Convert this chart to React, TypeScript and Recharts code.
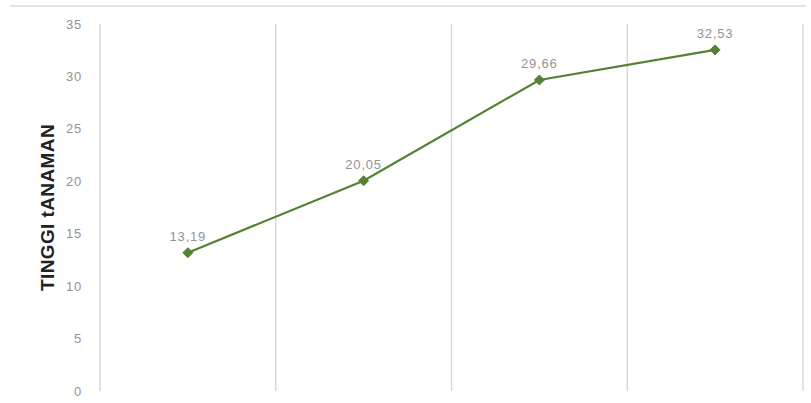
import { LineChart, Line, XAxis, YAxis, CartesianGrid, LabelList, Label } from "recharts";

const categories = ["1", "2", "3", "4"];
const tinggi = [13.19, 20.05, 29.66, 32.53];
const yTicks = [0, 5, 10, 15, 20, 25, 30, 35];

const data = categories.map((c, i) => ({ name: c, tinggi: tinggi[i] }));

const FONT = "'Liberation Sans', Arial, sans-serif";

const Diamond = (props: any) => {
  const { cx, cy } = props;
  if (cx == null || cy == null) return null;
  const r = 5;
  return (
    <polygon
      points={`${cx},${cy - r} ${cx + r},${cy} ${cx},${cy + r} ${cx - r},${cy}`}
      fill="#548235"
      stroke="#548235"
    />
  );
};

const bandLines = ({ offset }: any) =>
  categories.map((_, i) => offset.left + (offset.width * i) / categories.length).concat(offset.left + offset.width);

export default function App() {
  return (
    <div style={{ position: "absolute", left: 0, top: 0, width: 811, height: 403, background: "#fff" }}>
      <div style={{ position: "absolute", left: 10, top: 5, width: 796, borderTop: "2px solid #e3e3e3" }} />
      <LineChart
        width={811}
        height={403}
        data={data}
        margin={{ top: 24, right: 8, bottom: 12, left: 0 }}
      >
        <CartesianGrid horizontal={false} stroke="#d9d9d9" strokeWidth={1.5} verticalCoordinatesGenerator={bandLines} />
        <XAxis dataKey="name" type="category" scale="band" hide />
        <YAxis
          width={100}
          domain={[0, 35]}
          ticks={yTicks}
          axisLine={false}
          tickLine={false}
          tickMargin={12}
          tick={{ fill: "#939393", fontSize: 13, fontFamily: FONT, letterSpacing: 0.8 }}
        >
          <Label
            value="TINGGI tANAMAN"
            angle={-90}
            position="insideLeft"
            offset={47}
            style={{ fill: "#222", fontSize: 19, fontWeight: 700, fontFamily: FONT, textAnchor: "middle", letterSpacing: 0.4 }}
          />
        </YAxis>
        <Line
          dataKey="tinggi"
          stroke="#548235"
          strokeWidth={2.2}
          dot={<Diamond />}
          activeDot={false}
          isAnimationActive={false}
        >
          <LabelList
            dataKey="tinggi"
            position="top"
            offset={12}
            formatter={(v: any) => Number(v).toFixed(2).replace(".", ",")}
            style={{ fill: "#939393", fontSize: 13, fontFamily: FONT, letterSpacing: 0.8 }}
          />
        </Line>
      </LineChart>
    </div>
  );
}
